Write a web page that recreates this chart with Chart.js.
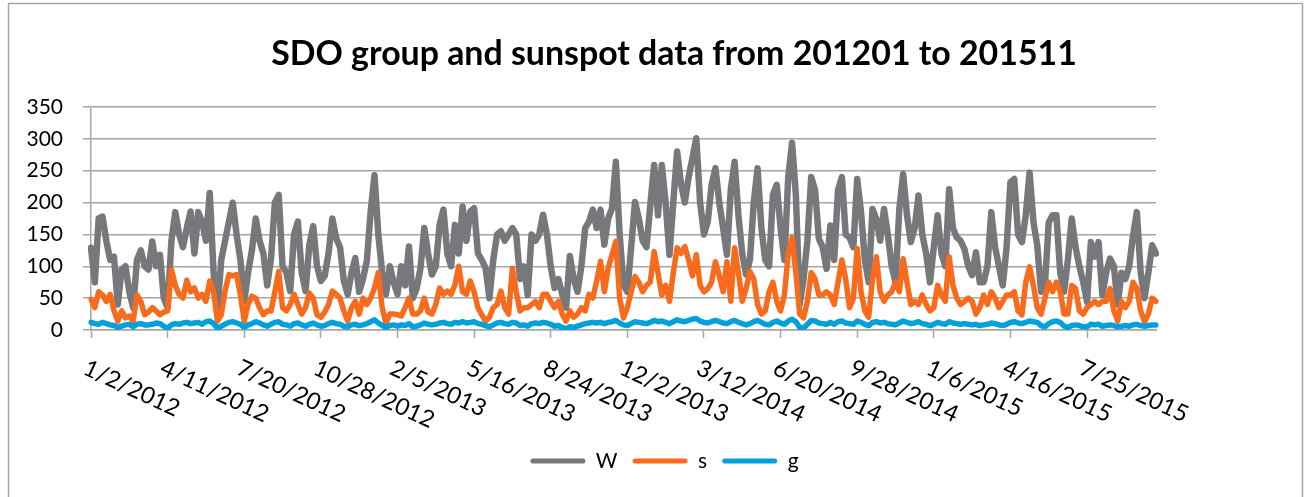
<!DOCTYPE html>
<html lang="en">
<head>
<meta charset="UTF-8" />
<title>SDO group and sunspot data</title>
<script src="https://cdn.jsdelivr.net/npm/chart.js@4.4.1/dist/chart.umd.min.js"></script>
<style>
  html, body { margin: 0; padding: 0; background: #ffffff; }
  #wrap { width: 1305px; height: 497px; }
</style>
</head>
<body>
<div id="wrap"><canvas id="sunChart" width="1305" height="497"></canvas></div>
<script>
const startDate = new Date(2012, 0, 2);
const stepDays = 5;
const tickEvery = 20; // a labelled tick every 100 days
const tickLabels = ["1/2/2012", "4/11/2012", "7/20/2012", "10/28/2012", "2/5/2013", "5/16/2013",
  "8/24/2013", "12/2/2013", "3/12/2014", "6/20/2014", "9/28/2014", "1/6/2015", "4/16/2015", "7/25/2015"];

// W - sunspot number
const wValues = [
  129, 75, 175, 178, 140, 110, 115, 40, 95, 100, 60, 35, 110, 125, 100, 95, 139, 100, 118, 50,
  35, 140, 185, 150, 130, 160, 186, 120, 185, 170, 140, 215, 90, 30, 110, 140, 170, 200, 150, 110,
  45, 90, 125, 175, 140, 120, 70, 113, 200, 212, 100, 90, 61, 150, 170, 90, 61, 134, 163, 100,
  77, 85, 120, 175, 144, 130, 77, 56, 90, 113, 60, 80, 108, 186, 243, 150, 90, 56, 100, 75,
  56, 100, 70, 131, 50, 65, 97, 160, 120, 87, 100, 165, 189, 120, 100, 165, 120, 194, 140, 186,
  191, 120, 110, 97, 50, 110, 150, 155, 140, 150, 160, 150, 80, 100, 55, 150, 140, 150, 181, 150,
  100, 66, 80, 56, 35, 116, 80, 60, 100, 160, 170, 189, 160, 189, 134, 175, 191, 264, 150, 70,
  60, 130, 201, 175, 140, 130, 196, 259, 180, 259, 200, 118, 200, 280, 230, 200, 240, 270, 301, 200,
  150, 170, 228, 254, 200, 160, 118, 220, 264, 180, 120, 87, 110, 200, 254, 160, 110, 100, 212, 228,
  160, 110, 240, 294, 211, 40, 80, 140, 240, 220, 143, 130, 96, 164, 110, 220, 240, 150, 145, 130,
  237, 185, 110, 75, 190, 174, 140, 190, 150, 100, 75, 190, 245, 180, 138, 160, 211, 150, 120, 75,
  130, 180, 120, 100, 221, 160, 145, 140, 127, 100, 86, 122, 75, 75, 100, 185, 130, 100, 70, 130,
  232, 237, 150, 138, 180, 247, 170, 133, 60, 70, 169, 180, 180, 90, 60, 110, 175, 130, 100, 75,
  44, 138, 115, 138, 55, 90, 112, 100, 40, 90, 80, 100, 148, 185, 90, 50, 90, 133, 120
];

// s - spot count
const sValues = [
  48, 35, 60, 55, 45, 56, 30, 14, 30, 19, 22, 14, 55, 45, 24, 28, 35, 30, 24, 28,
  30, 95, 70, 56, 50, 78, 60, 66, 50, 56, 45, 77, 60, 14, 24, 61, 87, 85, 87, 55,
  14, 40, 53, 50, 35, 24, 30, 30, 60, 92, 35, 30, 40, 56, 40, 25, 35, 58, 50, 24,
  20, 28, 40, 61, 56, 50, 30, 14, 35, 45, 25, 50, 40, 50, 66, 90, 35, 11, 25, 25,
  24, 22, 35, 50, 25, 25, 30, 50, 28, 25, 40, 66, 56, 61, 56, 71, 100, 60, 56, 77,
  60, 35, 24, 14, 20, 35, 40, 61, 35, 25, 97, 60, 30, 35, 35, 40, 45, 35, 56, 56,
  45, 35, 45, 25, 14, 30, 20, 25, 35, 30, 56, 50, 77, 108, 60, 97, 118, 139, 50, 19,
  35, 60, 84, 75, 60, 70, 75, 123, 90, 55, 70, 45, 90, 129, 120, 131, 110, 85, 118, 70,
  60, 65, 75, 107, 85, 60, 107, 45, 129, 90, 45, 65, 92, 80, 40, 25, 30, 60, 75, 45,
  30, 55, 120, 145, 90, 25, 19, 45, 90, 80, 55, 55, 60, 55, 40, 75, 110, 80, 35, 50,
  128, 60, 30, 20, 80, 115, 60, 45, 55, 60, 75, 60, 112, 75, 40, 45, 40, 55, 40, 30,
  35, 70, 55, 45, 115, 70, 50, 40, 45, 50, 45, 25, 35, 55, 40, 60, 50, 35, 45, 55,
  55, 60, 30, 24, 75, 99, 70, 35, 25, 50, 75, 60, 75, 60, 25, 25, 70, 65, 30, 25,
  35, 40, 45, 40, 45, 45, 65, 30, 14, 45, 35, 45, 75, 65, 30, 13, 25, 50, 45
];

// g - group count
const gValues = [
  12, 10, 9, 12, 10, 8, 7, 4, 6, 8, 9, 5, 9, 10, 8, 8, 9, 11, 10, 6,
  3, 8, 10, 9, 11, 12, 10, 11, 12, 9, 13, 14, 10, 3, 6, 9, 12, 13, 11, 9,
  4, 8, 10, 13, 11, 8, 6, 9, 12, 13, 9, 8, 6, 10, 11, 8, 6, 9, 11, 8,
  6, 7, 10, 12, 10, 9, 6, 5, 8, 9, 7, 8, 10, 13, 16, 11, 7, 4, 7, 8,
  6, 8, 7, 10, 5, 6, 8, 11, 9, 8, 9, 11, 12, 10, 9, 12, 11, 13, 11, 12,
  13, 10, 9, 7, 5, 8, 11, 12, 10, 9, 12, 11, 7, 8, 6, 10, 11, 10, 12, 11,
  9, 6, 7, 4, 2, 5, 4, 6, 8, 10, 11, 12, 11, 12, 10, 12, 13, 15, 11, 8,
  7, 10, 13, 12, 11, 10, 12, 15, 13, 14, 12, 10, 13, 16, 14, 13, 15, 17, 18, 14,
  12, 11, 13, 15, 13, 11, 10, 13, 15, 12, 10, 8, 10, 13, 15, 12, 9, 8, 12, 14,
  11, 9, 14, 17, 13, 4, 3, 9, 15, 14, 11, 10, 9, 12, 9, 13, 14, 11, 10, 9,
  14, 12, 9, 7, 12, 13, 11, 12, 10, 9, 8, 11, 14, 12, 10, 11, 13, 10, 9, 7,
  9, 12, 10, 9, 13, 11, 10, 9, 10, 9, 8, 9, 7, 8, 9, 11, 10, 8, 7, 9,
  12, 13, 11, 10, 12, 14, 13, 12, 7, 5, 10, 13, 14, 12, 6, 4, 7, 8, 7, 5,
  5, 9, 8, 9, 6, 7, 8, 7, 5, 6, 7, 6, 8, 9, 7, 6, 7, 8, 8
];

const categories = wValues.map((v, i) => {
  const d = new Date(startDate);
  d.setDate(d.getDate() + i * stepDays);
  return (d.getMonth() + 1) + "/" + d.getDate() + "/" + d.getFullYear();
});

const fontFamily = "Lato, 'Liberation Sans', sans-serif";
const gridColor = "#a6a6a6";
const titleText = "SDO group and sunspot data from 201201 to 201511";

// fit the title to the width it has in the original
const measureCtx = document.createElement("canvas").getContext("2d");
measureCtx.font = "bold 100px " + fontFamily;
const titleSize = 100 * 806 / measureCtx.measureText(titleText).width;

// frame, title and the slanted date labels
const decorations = {
  id: "decorations",
  afterDraw(chart) {
    const ctx = chart.ctx;
    const xs = chart.scales.x;
    ctx.save();
    ctx.strokeStyle = gridColor;
    ctx.lineWidth = 1.5;
    ctx.strokeRect(8.5, 3.5, 1294, 500);

    ctx.fillStyle = "#000000";
    ctx.font = "bold " + titleSize.toFixed(2) + "px " + fontFamily;
    ctx.textAlign = "center";
    ctx.textBaseline = "alphabetic";
    ctx.fillText(titleText, 674, 65);

    ctx.font = "23.5px " + fontFamily;
    ctx.textAlign = "left";
    ctx.textBaseline = "top";
    tickLabels.forEach((lab, k) => {
      const x = xs.getPixelForValue(k * tickEvery);
      ctx.save();
      ctx.translate(x - 1, 356);
      ctx.rotate(25 * Math.PI / 180);
      ctx.fillText(lab, 0, 0);
      ctx.restore();
    });
    ctx.restore();
  }
};

const ctx = document.getElementById("sunChart");
const myChart = new Chart(ctx, {
  type: "line",
  data: {
    labels: categories,
    datasets: [
      { label: "W", data: wValues, borderColor: "#77787b", backgroundColor: "#77787b", borderWidth: 6.5, order: 3 },
      { label: "s", data: sValues, borderColor: "#f96b1c", backgroundColor: "#f96b1c", borderWidth: 5.5, order: 2 },
      { label: "g", data: gValues, borderColor: "#03a1dc", backgroundColor: "#03a1dc", borderWidth: 5.5, order: 1 }
    ]
  },
  options: {
    responsive: false,
    animation: false,
    events: [],
    elements: {
      point: { radius: 0 },
      line: { tension: 0, borderJoinStyle: "round", borderCapStyle: "round", fill: false }
    },
    layout: { padding: { left: 24, right: 0, top: 107, bottom: 15.5 } },
    scales: {
      x: {
        ticks: { display: false, autoSkip: false },
        grid: {
          display: true,
          drawOnChartArea: false,
          drawTicks: true,
          tickLength: 8,
          tickWidth: 1.5,
          tickColor: c => (c.index % tickEvery === 0 ? gridColor : "rgba(0,0,0,0)")
        },
        border: { display: true, color: gridColor, width: 1.5 },
        afterFit: s => { s.height = 105.5; }
      },
      y: {
        min: 0,
        max: 350,
        ticks: { stepSize: 50, color: "#000000", padding: 20, font: { family: fontFamily, size: 21 } },
        grid: { color: gridColor, lineWidth: 1.5, tickLength: 8, drawTicks: true },
        border: { display: true, color: gridColor, width: 1.5 },
        afterFit: s => { s.width = 67; }
      },
      pad: {
        position: "right",
        display: true,
        min: 0,
        max: 1,
        grid: { display: false },
        ticks: { display: false },
        border: { display: false },
        afterFit: s => { s.width = 149; }
      }
    },
    plugins: {
      title: { display: false },
      tooltip: { enabled: false },
      legend: {
        display: true,
        position: "bottom",
        labels: {
          boxWidth: 55,
          boxHeight: 5,
          padding: 15,
          color: "#000000",
          font: { family: fontFamily, size: 21 },
          generateLabels: chart => chart.data.datasets.map((ds, i) => ({
            text: ds.label,
            fillStyle: ds.borderColor,
            strokeStyle: ds.borderColor,
            lineWidth: 0,
            borderRadius: 2.5,
            fontColor: "#000000",
            datasetIndex: i,
            hidden: false
          }))
        }
      }
    }
  },
  plugins: [decorations]
});
</script>
</body>
</html>
